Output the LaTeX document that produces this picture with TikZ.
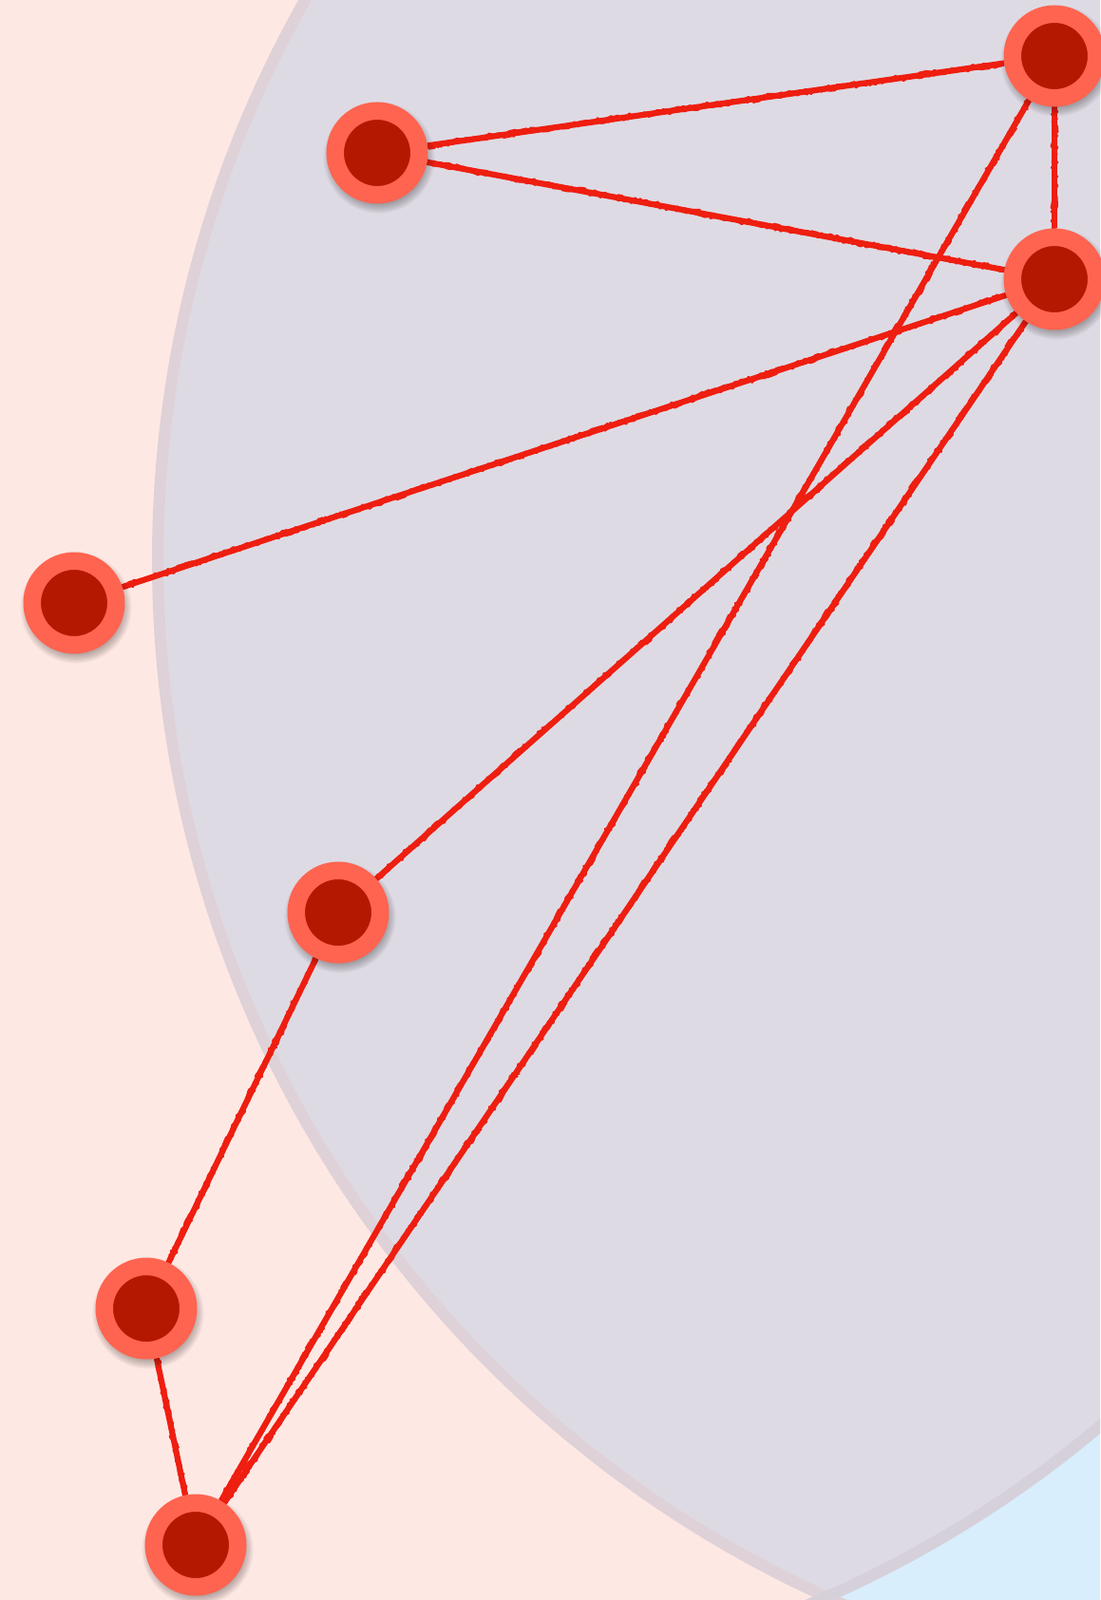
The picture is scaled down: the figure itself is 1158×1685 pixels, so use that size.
\documentclass[tikz,border=0pt]{standalone}
\usetikzlibrary{decorations.pathmorphing}
\definecolor{bgpink}{HTML}{FEE8E4}
\definecolor{bgblue}{HTML}{D8EEFC}
\definecolor{lensgray}{HTML}{DEDAE4}
\definecolor{bordpink}{HTML}{DED1D7}
\definecolor{bordblue}{HTML}{D5D0DA}
\definecolor{ringcol}{HTML}{FF6450}
\definecolor{corecol}{HTML}{B51800}
\definecolor{edgecol}{HTML}{EE1E10}
\pgfdeclarelayer{bg}
\pgfdeclarelayer{edges}
\pgfsetlayers{bg,edges,main}
\begin{document}
\begin{tikzpicture}[x=0.5pt,y=-0.5pt,
  vertex/.style={circle, draw=ringcol, fill=corecol, line width=9.25pt,
    minimum size=44.25pt, inner sep=0pt},
  link/.style={draw=edgecol, line width=3.1pt},
  roughlink/.style={draw=edgecol, line width=1.3pt, line join=round,
    line cap=round, decorate,
    decoration={random steps, segment length=1.8pt, amplitude=1.6pt}},
  shade/.style={fill=black, opacity=0.035}]
\useasboundingbox (0,0) rectangle (1158,1685);

% background: two overlapping circles
\begin{pgfonlayer}{bg}
\begin{scope}
  \clip (0,0) rectangle (1158,1685);
  \fill[white] (0,0) rectangle (1158,1685);
  \fill[bgpink] (388,588) circle (597.5pt);
  \fill[bgblue] (1364,590) circle (599pt);
  \begin{scope}
    \clip (388,588) circle (597.5pt);
    \fill[lensgray] (1364,590) circle (599pt);
  \end{scope}
  \draw[bordpink, line width=6pt] (1364,590) circle (599pt);
  \draw[bordblue, line width=6pt] (388,588) circle (597.5pt);
\end{scope}
\end{pgfonlayer}

% vertex positions
\coordinate (p1) at (397,161);
\coordinate (p2) at (1110,59);
\coordinate (p3) at (1110,294);
\coordinate (p4) at (78,635);
\coordinate (p5) at (356,961);
\coordinate (p6) at (154,1378);
\coordinate (p7) at (206,1627);

% soft shadows
\foreach \p in {p1,p2,p3,p4,p5,p6,p7}{
  \foreach \k in {0,...,8}{
    \fill[shade] ([xshift=1pt,yshift=-2.5pt]\p) circle ({24.5pt+\k*0.6pt});
  }
}

% vertices
\node[vertex] (n1) at (p1) {};
\node[vertex] (n2) at (p2) {};
\node[vertex] (n3) at (p3) {};
\node[vertex] (n4) at (p4) {};
\node[vertex] (n5) at (p5) {};
\node[vertex] (n6) at (p6) {};
\node[vertex] (n7) at (p7) {};

% edges
\begin{pgfonlayer}{edges}
\foreach \a/\b in {n1/n2, n1/n3, n2/n3, n2/n7, n3/n4, n3/n5, n3/n7, n5/n6, n6/n7}{
  \draw[link] (\a) -- (\b);
  \draw[roughlink] (\a) -- (\b);
  \draw[roughlink] (\a) -- (\b);
}
\end{pgfonlayer}
\end{tikzpicture}
\end{document}
